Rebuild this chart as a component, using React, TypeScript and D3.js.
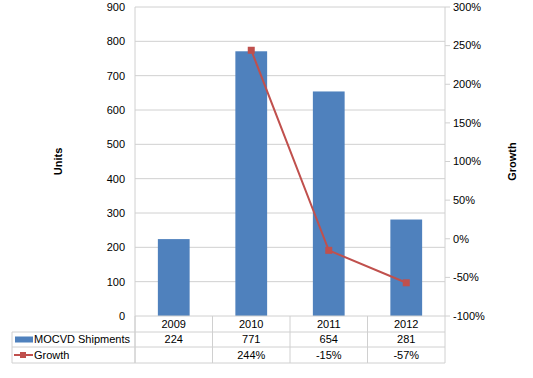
import React from "react";
import * as d3 from "d3";

const categories = ["2009", "2010", "2011", "2012"];
const shipments = [224, 771, 654, 281];
const growth: (number | null)[] = [null, 244, -15, -57];
const unitTicks = [0, 100, 200, 300, 400, 500, 600, 700, 800, 900];
const growthTicks = [-100, -50, 0, 50, 100, 150, 200, 250, 300];

const W = 533, H = 378;
const left = 135, right = 445, top = 7, bottom = 316;
const rowH = [316, 332, 347, 363];
const tableLeft = 12;
const BLUE = "#4F81BD", RED = "#C0504D", GRID = "#D0D0D0";
const FONT = "'Liberation Sans', Arial, sans-serif";

export default function App() {
  const x = d3.scaleBand<string>().domain(categories).range([left, right]).paddingInner(0).paddingOuter(0);
  const y = d3.scaleLinear().domain([0, 900]).range([bottom, top]);
  const y2 = d3.scaleLinear().domain([-100, 300]).range([bottom, top]);
  const bw = x.bandwidth() * 0.41;
  const pts = categories
    .map((c, i) => ({ c, v: growth[i] }))
    .filter((d) => d.v !== null) as { c: string; v: number }[];
  const line = d3
    .line<{ c: string; v: number }>()
    .x((d) => (x(d.c) as number) + x.bandwidth() / 2)
    .y((d) => y2(d.v));

  return (
    <svg width={W} height={H} style={{ position: "absolute", left: 0, top: 0, background: "#fff" }} fontFamily={FONT}>
      {unitTicks.map((t) => (
        <g key={t}>
          {t > 0 && <line x1={left} x2={right} y1={y(t)} y2={y(t)} stroke={GRID} strokeWidth={1} />}
          <text x={125} y={y(t)} dy="0.35em" textAnchor="end" fontSize={11} fill="#000">{t}</text>
        </g>
      ))}
      {growthTicks.map((t) => (
        <g key={t}>
          <line x1={right} x2={right + 5} y1={y2(t)} y2={y2(t)} stroke={GRID} />
          <text x={453} y={y2(t)} dy="0.35em" textAnchor="start" fontSize={11} fill="#000">{t}%</text>
        </g>
      ))}
      <line x1={left} x2={left} y1={top} y2={rowH[3]} stroke={GRID} />
      <line x1={right} x2={right} y1={top} y2={rowH[3]} stroke={GRID} />
      {shipments.map((v, i) => {
        const cx = (x(categories[i]) as number) + x.bandwidth() / 2;
        return <rect key={i} x={cx - bw / 2} y={y(v)} width={bw} height={bottom - y(v)} fill={BLUE} />;
      })}
      <path d={line(pts) || ""} fill="none" stroke={RED} strokeWidth={2} />
      {pts.map((d, i) => (
        <rect key={i} x={(x(d.c) as number) + x.bandwidth() / 2 - 3.5} y={y2(d.v) - 3.5} width={7} height={7} fill={RED} />
      ))}
      {/* table */}
      <line x1={left} x2={right} y1={bottom} y2={bottom} stroke={GRID} />
      {rowH.slice(1).map((r) => (
        <line key={r} x1={tableLeft} x2={right} y1={r} y2={r} stroke={GRID} />
      ))}
      <line x1={tableLeft} x2={tableLeft} y1={rowH[1]} y2={rowH[3]} stroke={GRID} />
      {categories.map((c, i) => (
        <line key={c} x1={(x(c) as number)} x2={(x(c) as number)} y1={bottom} y2={rowH[3]} stroke={GRID} />
      ))}
      {categories.map((c, i) => {
        const cx = (x(c) as number) + x.bandwidth() / 2;
        return (
          <g key={c}>
            <text x={cx} y={(rowH[0] + rowH[1]) / 2} dy="0.35em" textAnchor="middle" fontSize={11}>{c}</text>
            <text x={cx} y={(rowH[1] + rowH[2]) / 2} dy="0.35em" textAnchor="middle" fontSize={11}>{shipments[i]}</text>
            {growth[i] !== null && (
              <text x={cx} y={(rowH[2] + rowH[3]) / 2} dy="0.35em" textAnchor="middle" fontSize={11}>{growth[i]}%</text>
            )}
          </g>
        );
      })}
      <rect x={15} y={(rowH[1] + rowH[2]) / 2 - 3} width={18} height={6} fill={BLUE} />
      <text x={34} y={(rowH[1] + rowH[2]) / 2} dy="0.35em" fontSize={11}>MOCVD Shipments</text>
      <line x1={14} x2={33} y1={(rowH[2] + rowH[3]) / 2} y2={(rowH[2] + rowH[3]) / 2} stroke={RED} strokeWidth={2} />
      <rect x={20} y={(rowH[2] + rowH[3]) / 2 - 3} width={6} height={6} fill={RED} />
      <text x={34} y={(rowH[2] + rowH[3]) / 2} dy="0.35em" fontSize={11}>Growth</text>
      <text transform={`translate(62,${(top + bottom) / 2}) rotate(-90)`} textAnchor="middle" fontSize={11} fontWeight="bold">Units</text>
      <text transform={`translate(516,${(top + bottom) / 2}) rotate(-90)`} textAnchor="middle" fontSize={11} fontWeight="bold">Growth</text>
    </svg>
  );
}
